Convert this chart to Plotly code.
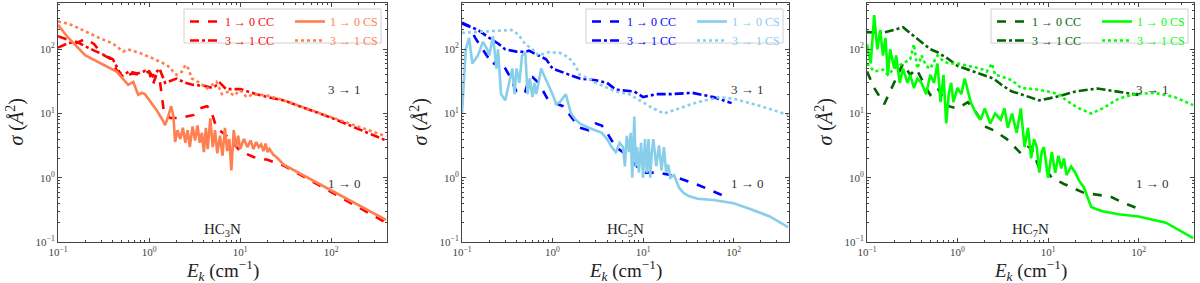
import plotly.graph_objects as go

# ---------------- HC3N ----------------
hc3_cc10_E = [0.1, 0.13, 0.16, 0.2, 0.25, 0.3, 0.38, 0.45, 0.55, 0.65, 0.8, 1.0, 1.1, 1.2, 1.3, 1.45, 1.7, 2.2, 2.6, 3.1, 3.6, 4.3, 4.7, 5.5, 7.2, 10, 14, 20, 25, 30, 400]
hc3_cc10_s = [160, 140, 125, 145, 120, 85, 70, 45, 38, 42, 40, 45, 28, 40, 36, 11, 8.5, 8.5, 9, 9.5, 12, 13, 12, 6, 4.4, 2.6, 2.1, 1.9, 1.7, 1.55, 0.2]
hc3_cc31_E = [0.1, 0.13, 0.16, 0.2, 0.25, 0.3, 0.4, 0.5, 0.6, 0.75, 0.9, 1.0, 1.1, 1.3, 1.5, 2.0, 2.5, 3.0, 4.0, 5.0, 6.0, 7.0, 10, 15, 20, 30, 100, 400]
hc3_cc31_s = [106, 125, 130, 110, 95, 85, 70, 38, 45, 42, 46, 45, 38, 50, 30, 35, 30, 28, 27, 25, 30, 24, 24, 20, 18, 16, 8.6, 3.8]
hc3_cs10_E = [0.1, 0.13, 0.2, 0.3, 0.44, 0.59, 0.67, 0.76, 0.83, 0.9, 1.02, 1.2, 1.4, 1.5, 1.6, 1.75, 1.85, 1.93, 2.05, 2.2, 2.35, 2.5, 2.65, 2.8, 3.0, 3.2, 3.4, 3.6, 3.8, 4.0, 4.2, 4.4, 4.7, 5.0, 5.3, 5.6, 6.0, 6.4, 6.8, 7.2, 7.6, 8.0, 8.5, 9.0, 9.5, 10, 11, 12, 13, 14, 15, 16, 17, 18, 19, 20, 21, 23, 25, 28, 30, 400]
hc3_cs10_s = [240, 150, 80, 60, 45, 28, 31, 19.5, 21, 20, 16, 11.5, 8, 6.6, 8.5, 13, 9, 3.6, 5.5, 4, 6, 3.5, 5.5, 3, 6.3, 3.8, 6.5, 3.5, 5, 2.5, 6, 2.8, 8.4, 3, 5.5, 2.4, 4.5, 2.2, 6, 2.6, 4, 1.3, 5.5, 3, 4.5, 2.8, 4, 3, 3.8, 2.8, 3.6, 3, 3.3, 2.6, 3.4, 2.5, 2.8, 2.3, 2.1, 1.8, 1.6, 0.22]
hc3_cs31_E = [0.1, 0.13, 0.16, 0.22, 0.29, 0.4, 0.52, 0.58, 0.65, 0.8, 1.1, 1.57, 2.0, 2.3, 2.5, 2.7, 2.95, 3.6, 4.3, 5.0, 5.5, 6.3, 7.5, 8.5, 10, 11.8, 14, 20, 30, 400]
hc3_cs31_s = [270, 250, 220, 177, 148, 123, 92, 100, 95, 87, 72, 57, 40, 45, 57, 50, 35, 30, 24.5, 28, 31, 20, 22, 19, 23, 18, 20, 19, 16, 4.4]

# ---------------- HC5N ----------------
hc5_cc10_E = [0.1, 0.12, 0.14, 0.17, 0.2, 0.22, 0.25, 0.29, 0.33, 0.4, 0.45, 0.5, 0.55, 0.6, 0.7, 0.9, 1.3, 1.6, 2.0, 2.5, 3.0, 3.5, 4.0, 5.0, 6.0, 7.0, 8.5, 10, 15, 20, 40, 90]
hc5_cc10_s = [260, 230, 150, 100, 70, 57, 70, 55, 40, 22, 20, 22, 35, 37, 30, 16, 13, 9, 6, 5.5, 7, 6.5, 5, 3, 2.5, 2, 1.5, 1.2, 1.2, 1.1, 0.78, 0.48]
hc5_cc31_E = [0.1, 0.15, 0.2, 0.25, 0.3, 0.4, 0.5, 0.55, 0.7, 0.85, 1.0, 1.5, 2.0, 3.0, 4.0, 5.0, 6.0, 8.0, 10, 12, 14, 20, 35, 60, 95]
hc5_cc31_s = [250, 200, 150, 123, 100, 92, 91, 95, 80, 70, 50, 40, 35, 33, 30, 23.5, 23, 22, 18, 19, 20, 20, 21, 18, 14.5]
hc5_cs10_E = [0.1, 0.11, 0.12, 0.13, 0.15, 0.17, 0.19, 0.2, 0.22, 0.24, 0.25, 0.27, 0.3, 0.33, 0.36, 0.38, 0.4, 0.43, 0.46, 0.5, 0.53, 0.56, 0.6, 0.63, 0.66, 0.7, 0.75, 0.8, 0.9, 1.0, 1.1, 1.2, 1.4, 1.6, 1.8, 2.0, 2.5, 3.0, 3.5, 4.0, 4.5, 5.0, 5.5, 6.0, 6.3, 6.6, 7.0, 7.3, 7.6, 8.0, 8.3, 8.6, 9.0, 9.5, 10, 10.5, 11, 11.5, 12, 12.5, 13, 14, 15, 16, 17, 18, 19, 20, 22, 25, 28, 32, 40, 60, 100, 150, 250, 400]
hc5_cs10_s = [10, 100, 150, 60, 80, 130, 100, 80, 160, 50, 100, 20, 16, 30, 50, 20, 50, 30, 80, 90, 20, 35, 18, 30, 20, 30, 50, 40, 28, 20, 14, 15, 20, 10, 8, 7, 6, 5.5, 5, 4, 3, 2.5, 3.5, 3, 1.5, 4.5, 2.5, 5, 1, 9, 1.5, 3, 1.2, 3.5, 1, 4, 1.2, 4, 1, 2.5, 4, 1.5, 3.2, 1.3, 3, 1.2, 1.6, 1, 1.1, 0.7, 0.58, 0.52, 0.47, 0.45, 0.4, 0.33, 0.25, 0.17]
hc5_cs31_E = [0.1, 0.15, 0.2, 0.27, 0.35, 0.42, 0.5, 0.6, 0.7, 0.9, 1.2, 1.5, 1.8, 2.0, 2.5, 3.0, 4.0, 5.0, 7.0, 10, 13, 17, 25, 40, 70, 100, 200, 400]
hc5_cs31_s = [180, 185, 190, 195, 200, 170, 120, 100, 80, 90, 88, 75, 55, 40, 35, 30, 25, 22, 20, 15, 12, 10, 12, 15, 18, 17, 13, 9.5]

# ---------------- HC7N ----------------
hc7_cc10_E = [0.1, 0.12, 0.155, 0.2, 0.25, 0.3, 0.35, 0.45, 0.5, 0.6, 0.8, 1.0, 1.3, 1.5, 2.0, 2.5, 3.5, 5.0, 6.0, 6.5, 8.0, 9.0, 11, 15, 25, 40, 50, 70, 100]
hc7_cc10_s = [45, 25, 14, 30, 60, 40, 50, 25, 19.5, 25, 13, 12, 15, 12, 6.3, 5.5, 4, 2.4, 3, 3, 1.4, 1.5, 1.0, 0.8, 0.58, 0.53, 0.5, 0.4, 0.33]
hc7_cc31_E = [0.1, 0.15, 0.2, 0.25, 0.35, 0.5, 0.6, 0.8, 1.0, 1.5, 2.0, 2.5, 3.1, 4.0, 5.0, 8.0, 12, 20, 35, 60, 100]
hc7_cc31_s = [185, 180, 200, 220, 150, 100, 90, 70, 55, 45, 40, 35, 27.5, 22, 20, 16, 18, 22, 24.5, 22, 19.5]
hc7_cs10_E = [0.1, 0.11, 0.12, 0.13, 0.14, 0.15, 0.16, 0.17, 0.18, 0.2, 0.21, 0.23, 0.25, 0.28, 0.3, 0.33, 0.36, 0.4, 0.45, 0.5, 0.55, 0.6, 0.65, 0.7, 0.75, 0.8, 0.85, 0.9, 1.0, 1.1, 1.2, 1.3, 1.4, 1.6, 1.8, 2.0, 2.3, 2.6, 3.0, 3.3, 3.6, 4.0, 4.5, 5.0, 5.5, 6.0, 6.5, 7.0, 7.5, 8.0, 8.5, 9.0, 10, 11, 12, 13, 14, 15, 16, 18, 20, 22, 25, 28, 30, 35, 40, 60, 100, 200, 400]
hc7_cs10_s = [120, 60, 340, 100, 200, 80, 150, 40, 100, 50, 80, 30, 50, 30, 40, 25, 35, 30, 20, 40, 30, 60, 15, 40, 7, 20, 30, 15, 25, 20, 35, 22, 15, 10, 8, 12, 7, 10, 8, 12, 6, 10, 5, 12, 3, 6, 2, 4, 3, 1.2, 2.5, 3, 1, 2.5, 1.2, 2.2, 1.4, 2, 1.1, 1.5, 1.2, 0.9, 0.7, 0.45, 0.35, 0.32, 0.3, 0.27, 0.25, 0.2, 0.115]
hc7_cs31_E = [0.1, 0.12, 0.15, 0.17, 0.2, 0.25, 0.3, 0.33, 0.36, 0.4, 0.45, 0.5, 0.6, 0.7, 0.8, 1.0, 1.3, 1.8, 2.1, 2.4, 2.6, 3.0, 4.0, 5.0, 7.0, 10, 13, 17, 22, 30, 40, 60, 90, 150, 250, 400]
hc7_cs31_s = [60, 45, 48, 40, 50, 60, 70, 120, 50, 80, 55, 50, 80, 65, 60, 60, 55, 50, 45, 60, 40, 38, 33, 25, 24, 22, 20, 15, 12, 10, 12, 17, 20, 21, 18, 13.5]

tick_vals = [0.1, 1, 10, 100]
tick_text = ["10<sup>−1</sup>", "10<sup>0</sup>", "10<sup>1</sup>", "10<sup>2</sup>"]
molecules = ["HC<sub>3</sub>N", "HC<sub>5</sub>N", "HC<sub>7</sub>N"]
cc_colors = ["#ff0000", "#0000ff", "#006400"]
cs_colors = ["#ff7f50", "#87ceeb", "#00ff00"]

panel_data = [
    (hc3_cc10_E, hc3_cc10_s, hc3_cs10_E, hc3_cs10_s, hc3_cc31_E, hc3_cc31_s, hc3_cs31_E, hc3_cs31_s),
    (hc5_cc10_E, hc5_cc10_s, hc5_cs10_E, hc5_cs10_s, hc5_cc31_E, hc5_cc31_s, hc5_cs31_E, hc5_cs31_s),
    (hc7_cc10_E, hc7_cc10_s, hc7_cs10_E, hc7_cs10_s, hc7_cc31_E, hc7_cc31_s, hc7_cs31_E, hc7_cs31_s),
]

W, H = 1200, 283
ax_left_px = [58, 462, 867]
ax_right_px = [387, 789, 1194]
ax_top_px, ax_bot_px = 3, 242
FONT = "Liberation Serif, DejaVu Serif, serif"

def px(xp):
    return xp / W

def py(yp):
    return 1 - yp / H

fig = go.Figure()

for i in range(3):
    ax = "" if i == 0 else str(i + 1)
    leg_cc = "legend" if i == 0 else "legend" + str(2 * i + 1)
    leg_cs = "legend" + str(2 * i + 2)
    d = panel_data[i]
    specs = [
        (d[0], d[1], "1 → 0 CC", cc_colors[i], "dash", leg_cc, 1),
        (d[4], d[5], "3 → 1 CC", cc_colors[i], "dashdot", leg_cc, 2),
        (d[2], d[3], "1 → 0 CS", cs_colors[i], "solid", leg_cs, 1),
        (d[6], d[7], "3 → 1 CS", cs_colors[i], "dot", leg_cs, 2),
    ]
    for xs, ys, name, col, dash, leg, rank in specs:
        fig.add_trace(go.Scatter(
            x=xs, y=ys, mode="lines",
            name='<span style="color:%s">%s</span>' % (col, name),
            line=dict(color=col, width=2.6, dash=dash),
            xaxis="x" + ax, yaxis="y" + ax, legend=leg, legendrank=rank,
        ))

    axis_common = dict(
        type="log", showgrid=False, zeroline=False, showline=True,
        linecolor="#444", linewidth=1, mirror="allticks",
        ticks="inside", ticklen=4, tickcolor="#444",
        tickmode="array", tickvals=tick_vals, ticktext=tick_text,
        tickfont=dict(family=FONT, size=11, color="#444"),
        minor=dict(ticks="inside", ticklen=2, tickcolor="#444", showgrid=False, dtick="D1"),
        automargin=False,
    )
    xl, xr = ax_left_px[i], ax_right_px[i]
    box_r = xr - 6
    box_l = box_r - 197
    fig.update_layout(**{
        "xaxis" + ax: dict(axis_common, domain=[px(xl), px(xr)], range=[-1, 2.612],
                           anchor="y" + ax),
        "yaxis" + ax: dict(axis_common, domain=[py(ax_bot_px), py(ax_top_px)], range=[-1, 2.72],
                           anchor="x" + ax),
        leg_cc: dict(orientation="v", x=px(box_l + 1), xanchor="left",
                     y=py(7), yanchor="top", bgcolor="rgba(0,0,0,0)", borderwidth=0,
                     itemwidth=30, tracegroupgap=0, font=dict(family=FONT, size=12)),
        leg_cs: dict(orientation="v", x=px(box_l + 106), xanchor="left",
                     y=py(7), yanchor="top", bgcolor="rgba(0,0,0,0)", borderwidth=0,
                     itemwidth=30, tracegroupgap=0, font=dict(family=FONT, size=12)),
    })
    # legend frame
    fig.add_shape(type="rect", xref="paper", yref="paper",
                  x0=px(box_l), x1=px(box_r), y0=py(43), y1=py(9),
                  line=dict(color="#d0d0d0", width=1), fillcolor="rgba(255,255,255,0.8)",
                  layer="above")
    xc = px((xl + xr) / 2)
    fig.add_annotation(xref="paper", yref="paper", x=xc, y=py(270), text="<i>E<sub>k</sub></i> (cm<sup>−1</sup>)",
                       showarrow=False, xanchor="center", yanchor="middle",
                       font=dict(family=FONT, size=19, color="#222"))
    fig.add_annotation(xref="paper", yref="paper", x=px(xl - 43), y=py((ax_top_px + ax_bot_px) / 2),
                       text="<i>σ</i> (<i>Å</i><sup>2</sup>)", textangle=-90,
                       showarrow=False, xanchor="center", yanchor="middle",
                       font=dict(family=FONT, size=20, color="#222"))
    fig.add_annotation(xref="x" + ax + " domain", yref="y" + ax + " domain",
                       x=0.5, y=0.05, text=molecules[i], showarrow=False,
                       xanchor="center", yanchor="middle",
                       font=dict(family=FONT, size=15, color="#222"))
    fig.add_annotation(xref="x" + ax + " domain", yref="y" + ax + " domain",
                       x=0.872, y=0.64, text="3 → 1", showarrow=False,
                       xanchor="center", yanchor="middle",
                       font=dict(family=FONT, size=13, color="#333"))
    fig.add_annotation(xref="x" + ax + " domain", yref="y" + ax + " domain",
                       x=0.872, y=0.245, text="1 → 0", showarrow=False,
                       xanchor="center", yanchor="middle",
                       font=dict(family=FONT, size=13, color="#333"))

fig.update_layout(
    width=W, height=H,
    margin=dict(l=0, r=0, t=0, b=0),
    paper_bgcolor="white", plot_bgcolor="white",
    font=dict(family=FONT),
)

fig.write_html("out.html", config={"displayModeBar": False},
               post_script="document.body.style.margin='0';document.body.style.overflow='hidden';")
